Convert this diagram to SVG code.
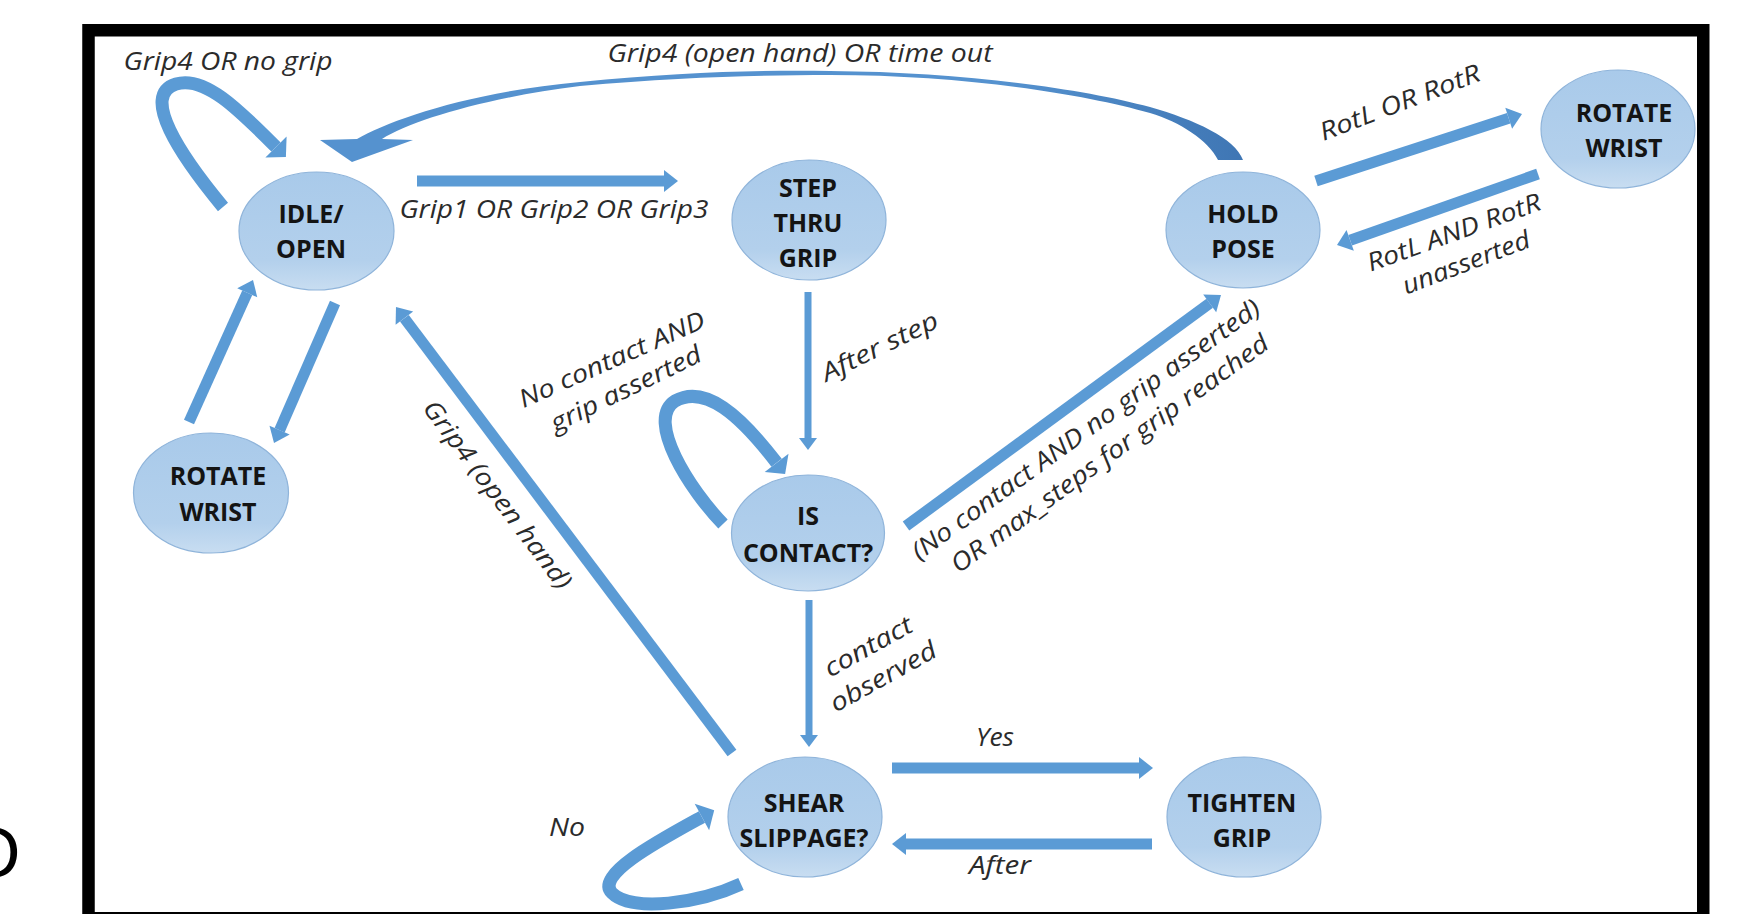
<svg xmlns="http://www.w3.org/2000/svg" width="1751" height="914" viewBox="0 0 1751 914">
<defs>
<linearGradient id="nodeFill" x1="0" y1="0" x2="0" y2="1">
<stop offset="0" stop-color="#a9caea"/>
<stop offset="0.75" stop-color="#b3d0ec"/>
<stop offset="1" stop-color="#c8ddf1"/>
</linearGradient>
<linearGradient id="arcFill" gradientUnits="userSpaceOnUse" x1="1000" y1="0" x2="1243" y2="0">
<stop offset="0" stop-color="#5592cf"/>
<stop offset="1" stop-color="#3f76b4"/>
</linearGradient>
<marker id="ah" markerUnits="userSpaceOnUse" markerWidth="14" markerHeight="22" refX="0" refY="11" orient="auto" overflow="visible">
<path d="M0,0 L14,11 L0,22 Z" fill="#5b9bd5"/>
</marker>
<marker id="ahs" markerUnits="userSpaceOnUse" markerWidth="12" markerHeight="18" refX="0" refY="9" orient="auto" overflow="visible">
<path d="M0,0 L12,9 L0,18 Z" fill="#5b9bd5"/>
</marker>
<marker id="ahc" markerUnits="userSpaceOnUse" markerWidth="14" markerHeight="30" refX="0" refY="15" orient="auto" overflow="visible">
<path d="M0,0 L14,15 L0,30 Z" fill="#5b9bd5"/>
</marker>
</defs>
<style>
.node ellipse { fill: url(#nodeFill); stroke: #8fb4da; stroke-width: 1.2; }
.node text { font-family: "Open Sans", "Liberation Sans", sans-serif; font-weight: bold; font-size: 25px; fill: #141414; text-anchor: middle; }
.edge { fill: none; stroke: #5b9bd5; stroke-linecap: butt; }
.thick { stroke-width: 11; marker-end: url(#ah); }
.thin { stroke-width: 7; marker-end: url(#ahs); }
.loop { stroke-width: 13; marker-end: url(#ahc); }
.lbl { font-family: "Open Sans", "Liberation Sans", sans-serif; font-style: italic; font-size: 25px; fill: #2b2b2b; text-anchor: middle; }
</style>
<rect x="0" y="0" width="1751" height="914" fill="#ffffff"/>
<rect x="88.5" y="30.25" width="1614.75" height="888" fill="none" stroke="#000000" stroke-width="12.5"/>
<text x="-34" y="877" font-family="Liberation Sans, sans-serif" font-size="70" fill="#000000">O</text>

<g id="connectors">
<path id="arc-hold-idle" d="M352,162 L320,140 L357,139 C390,120 470,92 580,82 C680,72 760,70 830,71 C960,72 1080,88 1150,107 C1195,120 1235,138 1243,160 L1218,160 C1208,140 1180,122 1150,113 C1080,93 960,75 830,75 C760,75 680,77 580,86 C490,97 412,120 382,139 L413,140 Z" fill="url(#arcFill)"/>
<path class="edge loop" d="M223,207 C180,155 140,95 176,84 C205,75 240,111 276,147"/>
<line class="edge thick" x1="417" y1="181" x2="664" y2="181"/>
<line class="edge thick" x1="1316" y1="181" x2="1508.7" y2="118.3"/>
<line class="edge thick" x1="1538" y1="174" x2="1350.2" y2="240.3"/>
<line class="edge thick" x1="189" y1="422" x2="247.25" y2="292.75"/>
<line class="edge thick" x1="335" y1="303" x2="279.6" y2="430.2"/>
<line class="edge thick" x1="732" y1="753" x2="404.4" y2="318.2"/>
<line class="edge thin" x1="808" y1="292" x2="808" y2="438"/>
<path class="edge loop" d="M723,524 C690,490 645,420 675,401 C705,384 740,415 776.6,462.8"/>
<line class="edge thick" x1="906" y1="526" x2="1209.7" y2="303.3"/>
<line class="edge thin" x1="809" y1="600" x2="809" y2="735"/>
<line class="edge thick" x1="892" y1="768" x2="1139" y2="768"/>
<line class="edge thick" x1="1152" y1="844" x2="906" y2="844"/>
<path class="edge loop" d="M741,884 C700,903 632,913 612,893 C594,875 660,840 701.9,817"/>

<text class="lbl" x="228" y="70" textLength="209" lengthAdjust="spacingAndGlyphs">Grip4 OR no grip</text>
<text class="lbl" x="800" y="62" textLength="385" lengthAdjust="spacingAndGlyphs">Grip4 (open hand) OR time out</text>
<text class="lbl" x="554" y="218" textLength="309" lengthAdjust="spacingAndGlyphs">Grip1 OR Grip2 OR Grip3</text>
<text class="lbl" transform="translate(1400,103) rotate(-21)" x="0" y="8" textLength="170" lengthAdjust="spacingAndGlyphs">RotL OR RotR</text>
<text class="lbl" transform="translate(1454,233) rotate(-20)" x="0" y="8" textLength="183" lengthAdjust="spacingAndGlyphs">RotL AND RotR</text>
<text class="lbl" transform="translate(1467,265) rotate(-21)" x="0" y="6" textLength="135" lengthAdjust="spacingAndGlyphs">unasserted</text>
<text class="lbl" transform="translate(612,360) rotate(-24)" x="0" y="8" textLength="201" lengthAdjust="spacingAndGlyphs">No contact AND</text>
<text class="lbl" transform="translate(627,391) rotate(-26)" x="0" y="6" textLength="165" lengthAdjust="spacingAndGlyphs">grip asserted</text>
<text class="lbl" transform="translate(880,347) rotate(-26)" x="0" y="8" textLength="127" lengthAdjust="spacingAndGlyphs">After step</text>
<text class="lbl" transform="translate(1086,430) rotate(-36)" x="0" y="8" textLength="424" lengthAdjust="spacingAndGlyphs">(No contact AND no grip asserted)</text>
<text class="lbl" transform="translate(1110,454) rotate(-36)" x="0" y="8" textLength="386" lengthAdjust="spacingAndGlyphs">OR max_steps for grip reached</text>
<text class="lbl" transform="translate(497,495) rotate(53)" x="0" y="8" textLength="229" lengthAdjust="spacingAndGlyphs">Grip4 (open hand)</text>
<text class="lbl" transform="translate(869,648) rotate(-29)" x="0" y="7" textLength="97" lengthAdjust="spacingAndGlyphs">contact</text>
<text class="lbl" transform="translate(884,678) rotate(-29)" x="0" y="7" textLength="118" lengthAdjust="spacingAndGlyphs">observed</text>
<text class="lbl" x="995" y="746" textLength="38" lengthAdjust="spacingAndGlyphs">Yes</text>
<text class="lbl" x="1000" y="874" textLength="62" lengthAdjust="spacingAndGlyphs">After</text>
<text class="lbl" x="567" y="836" textLength="36" lengthAdjust="spacingAndGlyphs">No</text>
</g>

<g id="node-idle" class="node">
<ellipse cx="316.5" cy="231" rx="77.5" ry="59"/>
<text x="311" y="223">IDLE/</text>
<text x="311" y="258">OPEN</text>
</g>
<g id="node-step" class="node">
<ellipse cx="809" cy="220" rx="77" ry="60"/>
<text x="808" y="197">STEP</text>
<text x="808" y="232">THRU</text>
<text x="808" y="267">GRIP</text>
</g>
<g id="node-hold" class="node">
<ellipse cx="1243" cy="230" rx="77" ry="58"/>
<text x="1243" y="223">HOLD</text>
<text x="1243" y="258">POSE</text>
</g>
<g id="node-rotate-right" class="node">
<ellipse cx="1618" cy="129" rx="77" ry="59"/>
<text x="1624" y="122">ROTATE</text>
<text x="1624" y="157">WRIST</text>
</g>
<g id="node-rotate-left" class="node">
<ellipse cx="211" cy="493" rx="77.5" ry="60"/>
<text x="218" y="485">ROTATE</text>
<text x="218" y="521">WRIST</text>
</g>
<g id="node-contact" class="node">
<ellipse cx="808" cy="533" rx="76.5" ry="58"/>
<text x="808" y="525">IS</text>
<text x="808" y="562">CONTACT?</text>
</g>
<g id="node-shear" class="node">
<ellipse cx="805" cy="817" rx="77" ry="60"/>
<text x="804" y="812">SHEAR</text>
<text x="804" y="847">SLIPPAGE?</text>
</g>
<g id="node-tighten" class="node">
<ellipse cx="1244" cy="817" rx="77" ry="60"/>
<text x="1242" y="812">TIGHTEN</text>
<text x="1242" y="847">GRIP</text>
</g>
</svg>
